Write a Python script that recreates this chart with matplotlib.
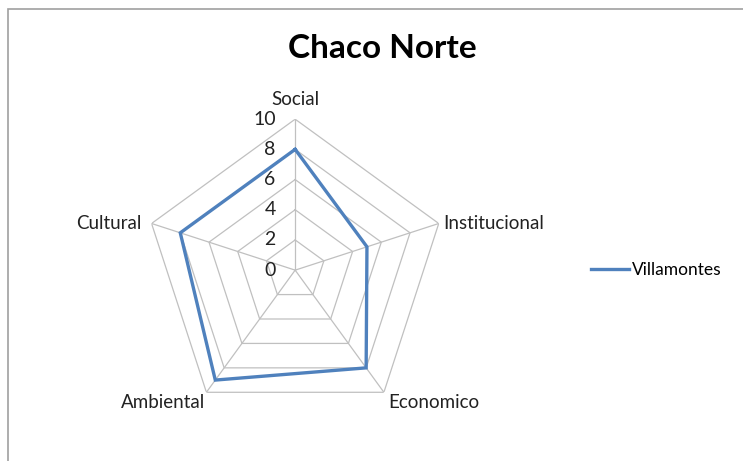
import numpy as np
import matplotlib.pyplot as plt
from matplotlib.patches import Rectangle

# Data
categories = ['Social', 'Institucional', 'Economico', 'Ambiental', 'Cultural']
villamontes = [8, 5, 8, 9, 8]
r_ticks = [0, 2, 4, 6, 8, 10]
series_name = 'Villamontes'
title = 'Chaco Norte'

plt.rcParams['font.family'] = ['Lato', 'DejaVu Sans']

fig = plt.figure(figsize=(7.43, 4.61), dpi=100)

# chart frame like Excel
fig.patches.append(Rectangle((8 / 743, -0.05), 1.0, 1 - 9 / 461 + 0.05,
                             transform=fig.transFigure, fill=False,
                             edgecolor='#A0A0A0', linewidth=1.2))

ax = fig.add_axes([0.194, 0.0865, 0.4065, 0.655], projection='polar')
ax.set_theta_offset(np.pi / 2)
ax.set_theta_direction(-1)
ax.set_ylim(0, 10)
ax.grid(False)
ax.spines['polar'].set_visible(False)
ax.set_xticks([])
ax.set_yticks([])
ax.patch.set_alpha(0)

n = len(categories)
angles = np.linspace(0, 2 * np.pi, n, endpoint=False)
closed = np.append(angles, angles[0])

# pentagon grid
for r in r_ticks[1:]:
    ax.plot(closed, [r] * (n + 1), color='#C0C0C0', lw=0.9, zorder=1)
for a in angles:
    ax.plot([a, a], [0, 10], color='#C0C0C0', lw=0.9, zorder=1)

# series
ax.plot(closed, villamontes + villamontes[:1], color='#4F81BD', lw=2.4,
        zorder=3, label=series_name, solid_joinstyle='miter')

# radial tick labels
for r in r_ticks:
    ax.annotate(str(r), (0, r), xytext=(-14, 0), textcoords='offset points',
                ha='right', va='center', fontsize=14, color='#222222')

# category labels
offsets = [((0, 8), 'center', 'bottom'),
           ((3, 0), 'left', 'center'),
           ((3, -1), 'left', 'top'),
           ((-1, -1), 'right', 'top'),
           ((-7, 0), 'right', 'center')]
for a, lab, (off, ha, va) in zip(angles, categories, offsets):
    ax.annotate(lab, (a, 10), xytext=off, textcoords='offset points',
                ha=ha, va=va, fontsize=13.5, color='#222222')

fig.text(0.515, 0.895, title, ha='center', va='center', fontsize=24,
         fontweight='bold', color='black')

fig.legend(loc='center left', bbox_to_anchor=(0.774, 0.414), frameon=False,
           fontsize=12.5, handlelength=2.2, handletextpad=0.2)

plt.savefig('out.png', dpi=100)
